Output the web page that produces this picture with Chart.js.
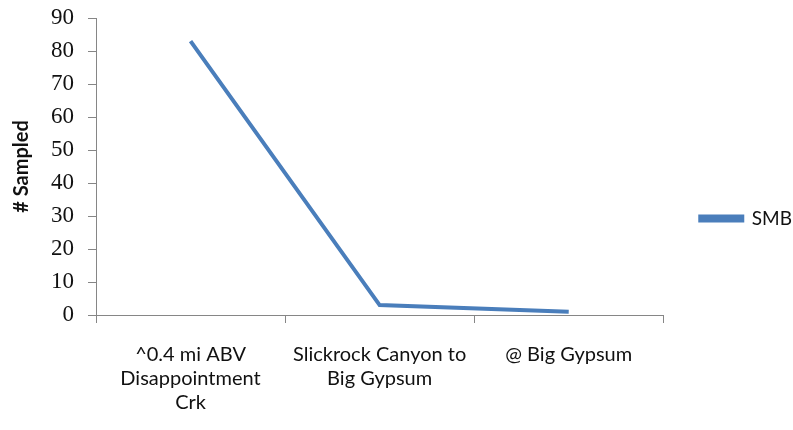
<!DOCTYPE html>
<html>
<head>
<meta charset="utf-8">
<script src="https://cdn.jsdelivr.net/npm/chart.js@4/dist/chart.umd.min.js"></script>
<style>
  html, body { margin: 0; padding: 0; background: #fff; }
  #wrap { width: 793px; height: 430px; }
</style>
</head>
<body>
<div id="wrap"><canvas id="sampledChart"></canvas></div>
<script>
// --- DATA ---
const sites = [
  ['^0.4 mi ABV', 'Disappointment', 'Crk'],
  ['Slickrock Canyon to', 'Big Gypsum'],
  ['@ Big Gypsum']
];
const smbSampled = [83, 3, 1];
const yTicks = [0, 10, 20, 30, 40, 50, 60, 70, 80, 90];

const blue = '#4a7ebb';
const axisGray = '#868686';

const ctx = document.getElementById('sampledChart').getContext('2d');

const sampledChart = new Chart(ctx, {
  type: 'line',
  data: {
    labels: sites,
    datasets: [{
      label: 'SMB',
      data: smbSampled,
      borderColor: blue,
      backgroundColor: blue,
      borderWidth: 4,
      pointRadius: 0,
      tension: 0,
      fill: false
    }]
  },
  options: {
    responsive: true,
    maintainAspectRatio: false,
    animation: false,
    layout: { padding: { top: 7, left: 0, right: -9, bottom: 0 } },
    scales: {
      x: {
        offset: true,
        grid: { offset: true, drawOnChartArea: false, tickLength: 8, color: axisGray },
        border: { color: axisGray },
        ticks: {
          color: '#111',
          padding: 20,
          maxRotation: 0,
          autoSkip: false,
          font: { family: 'Lato', size: 20, lineHeight: 1.2 }
        },
        afterFit: (scale) => { scale.height = 115; }
      },
      y: {
        min: 0,
        max: 90,
        afterBuildTicks: (scale) => { scale.ticks = yTicks.map(v => ({ value: v })); },
        grid: { drawOnChartArea: false, tickLength: 8, color: axisGray },
        border: { color: axisGray },
        ticks: {
          color: '#111',
          padding: 14,
          font: { family: 'Liberation Serif', size: 23, lineHeight: 0.35 }
        },
        title: {
          display: true,
          text: '# Sampled',
          color: '#111',
          padding: { top: 10, bottom: 0 },
          font: { family: 'Lato', size: 20, weight: 'bold' }
        },
        afterFit: (scale) => { scale.width = 96; }
      }
    },
    plugins: {
      legend: {
        position: 'right',
        labels: {
          color: '#111',
          boxWidth: 42,
          boxHeight: 4,
          padding: 37,
          font: { family: 'Lato', size: 19 }
        }
      },
      tooltip: { enabled: false }
    }
  }
});
</script>
</body>
</html>
